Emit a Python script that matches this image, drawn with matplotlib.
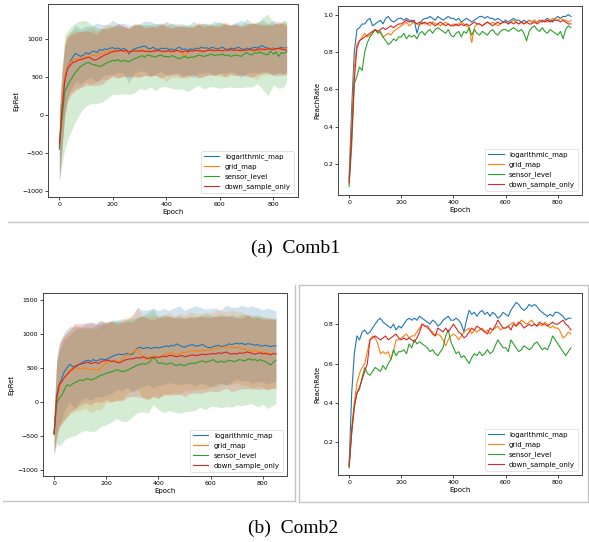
import numpy as np
from matplotlib import pyplot as plt
from matplotlib.lines import Line2D

W, H = 589, 542

epochs = np.arange(0, 851, 10)
band_epochs = np.array([0, 10, 20, 30, 40] + list(range(60, 841, 20)) + [850])
names = ["logarithmic_map", "grid_map", "sensor_level", "down_sample_only"]
colors = ["tab:blue", "tab:orange", "tab:green", "tab:red"]

# ---- Comb1, EpRet ----
c1_ret_log = [-450, 50, 450, 620, 700, 760, 810, 790, 770, 790,
              820, 800, 830, 840, 820, 860, 850, 870, 860, 880,
              885, 870, 880, 860, 875, 860, 800, 850, 870, 880,
              890, 900, 905, 880, 870, 890, 870, 860, 880, 870,
              880, 860, 870, 850, 880, 890, 860, 870, 850, 870,
              860, 880, 870, 890, 880, 885, 870, 890, 880, 870,
              880, 890, 870, 860, 880, 870, 880, 890, 870, 860,
              880, 870, 880, 890, 880, 900, 910, 890, 880, 870,
              880, 870, 880, 890, 880, 890]
c1_ret_grid = [-400, 100, 500, 640, 690, 720, 730, 740, 735, 750,
               770, 760, 780, 790, 770, 800, 810, 820, 830, 840,
               850, 840, 830, 845, 835, 830, 820, 840, 850, 845,
               850, 860, 840, 830, 850, 840, 830, 850, 840, 830,
               830, 840, 820, 830, 840, 830, 820, 760, 820, 840,
               850, 840, 860, 850, 840, 850, 860, 840, 850, 860,
               850, 840, 860, 850, 860, 840, 850, 860, 850, 840,
               850, 860, 850, 860, 850, 840, 860, 870, 860, 870,
               870, 860, 880, 870, 880, 880]
c1_ret_sensor = [-420, -50, 300, 380, 450, 500, 560, 600, 640, 660,
                 680, 690, 670, 660, 650, 640, 650, 670, 690, 700,
                 720, 710, 730, 700, 720, 710, 700, 720, 740, 750,
                 770, 780, 760, 790, 780, 770, 760, 780, 790, 770,
                 770, 760, 780, 770, 750, 740, 760, 770, 750, 760,
                 760, 770, 790, 780, 770, 780, 790, 800, 780, 790,
                 790, 800, 780, 790, 770, 780, 790, 780, 770, 800,
                 820, 800, 790, 820, 810, 830, 810, 800, 790, 840,
                 800, 830, 770, 820, 810, 830]
c1_ret_down = [-380, 80, 450, 600, 650, 690, 700, 720, 730, 740,
               750, 760, 740, 720, 730, 750, 770, 790, 800, 820,
               830, 840, 845, 850, 840, 850, 830, 835, 845, 840,
               840, 845, 835, 840, 830, 840, 845, 850, 840, 835,
               840, 845, 835, 840, 850, 840, 830, 840, 835, 845,
               840, 850, 845, 840, 835, 845, 850, 855, 845, 850,
               850, 845, 855, 850, 860, 850, 855, 850, 845, 855,
               850, 860, 855, 850, 860, 870, 865, 860, 870, 865,
               860, 870, 875, 865, 860, 850]

c1_std_log = [450, 500, 450, 400, 380,
              370, 360, 350, 340, 390, 340, 330, 360, 320, 330,
              380, 320, 310, 330, 360, 330, 310, 350, 330, 320,
              340, 320, 370, 320, 330, 310, 360, 330, 320, 310,
              330, 380, 330, 320, 330, 340, 320, 370, 320, 330,
              320]
c1_std_grid = [450, 500, 450, 420, 400,
               380, 360, 340, 380, 330, 340, 370, 320, 340, 330,
               320, 360, 340, 320, 330, 310, 340, 390, 320, 350,
               330, 340, 320, 360, 350, 320, 330, 340, 370, 330,
               340, 320, 330, 350, 380, 330, 340, 320, 330, 360,
               330]
c1_std_sensor = [450, 600, 750, 720, 700,
                 650, 600, 560, 520, 500, 480, 470, 450, 460, 440,
                 430, 450, 420, 430, 410, 440, 420, 400, 430, 410,
                 420, 440, 410, 400, 430, 420, 410, 440, 420, 400,
                 430, 410, 450, 420, 400, 470, 540, 410, 420, 440,
                 400]
c1_std_down = [450, 500, 470, 430, 400,
               380, 370, 360, 350, 340, 370, 330, 330, 360, 330,
               320, 330, 350, 310, 330, 320, 360, 320, 310, 320,
               340, 320, 310, 360, 320, 330, 320, 310, 350, 320,
               330, 320, 340, 360, 330, 320, 310, 330, 360, 330,
               320]

# ---- Comb1, ReachRate ----
c1_rr_log = [0.12, 0.50, 0.80, 0.92, 0.93, 0.95, 0.95, 0.97, 0.98, 0.94,
             0.95, 0.96, 0.97, 0.95, 0.98, 0.99, 0.97, 0.96, 0.97, 0.98,
             0.98, 0.97, 0.98, 0.97, 0.96, 0.97, 0.90, 0.95, 0.97, 0.98,
             0.98, 0.99, 0.98, 0.97, 0.99, 0.98, 0.97, 0.98, 0.99, 0.98,
             0.98, 0.97, 0.98, 0.96, 0.97, 0.98, 0.97, 0.96, 0.97, 0.98,
             0.99, 0.99, 0.98, 0.99, 0.98, 0.98, 0.97, 0.98, 0.97, 0.96,
             0.97, 0.96, 0.97, 0.98, 0.97, 0.97, 0.96, 0.97, 0.96, 0.97,
             0.96, 0.97, 0.96, 0.97, 0.96, 0.97, 0.98, 0.97, 0.96, 0.98,
             0.99, 0.98, 0.99, 0.99, 1.00, 0.99]
c1_rr_grid = [0.10, 0.40, 0.72, 0.84, 0.86, 0.88, 0.90, 0.88, 0.89, 0.90,
              0.92, 0.91, 0.90, 0.88, 0.89, 0.90, 0.89, 0.91, 0.92, 0.93,
              0.94, 0.95, 0.96, 0.94, 0.95, 0.96, 0.95, 0.94, 0.96, 0.95,
              0.95, 0.94, 0.96, 0.95, 0.95, 0.94, 0.95, 0.96, 0.95, 0.94,
              0.95, 0.94, 0.95, 0.96, 0.95, 0.94, 0.93, 0.85, 0.93, 0.95,
              0.95, 0.94, 0.95, 0.96, 0.95, 0.96, 0.95, 0.94, 0.95, 0.96,
              0.96, 0.95, 0.96, 0.97, 0.96, 0.95, 0.96, 0.95, 0.96, 0.97,
              0.96, 0.97, 0.96, 0.97, 0.96, 0.97, 0.96, 0.97, 0.98, 0.97,
              0.97, 0.98, 0.97, 0.97, 0.96, 0.97]
c1_rr_sensor = [0.08, 0.30, 0.63, 0.67, 0.72, 0.70, 0.80, 0.85, 0.88, 0.90,
                0.92, 0.90, 0.91, 0.88, 0.86, 0.84, 0.85, 0.87, 0.86, 0.88,
                0.88, 0.90, 0.87, 0.89, 0.88, 0.89, 0.87, 0.90, 0.91, 0.89,
                0.91, 0.92, 0.90, 0.92, 0.93, 0.92, 0.91, 0.90, 0.92, 0.89,
                0.88, 0.90, 0.91, 0.88, 0.91, 0.90, 0.93, 0.89, 0.92, 0.90,
                0.89, 0.91, 0.90, 0.89, 0.91, 0.92, 0.90, 0.89, 0.91, 0.92,
                0.92, 0.91, 0.92, 0.93, 0.92, 0.91, 0.92, 0.90, 0.86, 0.91,
                0.93, 0.94, 0.92, 0.91, 0.93, 0.91, 0.90, 0.92, 0.91, 0.90,
                0.89, 0.91, 0.87, 0.92, 0.94, 0.93]
c1_rr_down = [0.10, 0.35, 0.65, 0.82, 0.86, 0.87, 0.88, 0.89, 0.90, 0.91,
              0.92, 0.91, 0.92, 0.93, 0.92, 0.93, 0.94, 0.93, 0.94, 0.95,
              0.95, 0.96, 0.97, 0.96, 0.97, 0.96, 0.95, 0.96, 0.95, 0.96,
              0.95, 0.96, 0.95, 0.94, 0.95, 0.96, 0.95, 0.94, 0.95, 0.94,
              0.94, 0.95, 0.94, 0.95, 0.94, 0.95, 0.94, 0.95, 0.96, 0.95,
              0.95, 0.94, 0.95, 0.96, 0.95, 0.94, 0.95, 0.96, 0.95, 0.96,
              0.96, 0.95, 0.96, 0.95, 0.96, 0.95, 0.96, 0.95, 0.96, 0.95,
              0.95, 0.96, 0.95, 0.96, 0.97, 0.96, 0.97, 0.96, 0.97, 0.97,
              0.97, 0.96, 0.97, 0.96, 0.95, 0.95]

# ---- Comb2, EpRet ----
c2_ret_log = [-480, 100, 250, 350, 450, 500, 550, 520, 500, 530,
              560, 580, 600, 610, 590, 620, 600, 610, 630, 620,
              620, 640, 660, 680, 690, 700, 690, 700, 710, 690,
              700, 740, 790, 800, 780, 790, 800, 780, 790, 800,
              790, 800, 810, 820, 810, 830, 820, 850, 830, 810,
              800, 820, 830, 840, 820, 820, 830, 840, 810, 800,
              790, 810, 820, 830, 810, 820, 830, 850, 840, 850,
              860, 850, 860, 840, 850, 850, 840, 830, 840, 820,
              820, 830, 820, 810, 820, 820]
c2_ret_grid = [-450, 0, 200, 300, 350, 400, 430, 460, 500, 490,
               480, 490, 500, 480, 470, 480, 470, 460, 500, 540,
               570, 580, 590, 600, 590, 600, 620, 650, 680, 700,
               720, 740, 780, 700, 650, 620, 640, 660, 680, 650,
               650, 660, 690, 700, 710, 720, 700, 690, 700, 720,
               720, 730, 740, 750, 740, 750, 740, 760, 750, 760,
               760, 770, 780, 790, 800, 800, 790, 810, 800, 790,
               800, 790, 780, 770, 760, 760, 740, 750, 740, 730,
               730, 720, 710, 700, 710, 700]
c2_ret_sensor = [-480, -20, 50, 100, 180, 250, 230, 260, 280, 300,
                 320, 310, 330, 340, 320, 330, 350, 370, 390, 400,
                 420, 430, 440, 450, 470, 460, 440, 450, 460, 480,
                 500, 520, 540, 550, 560, 550, 570, 600, 660, 620,
                 560, 570, 560, 550, 560, 570, 540, 530, 550, 540,
                 530, 550, 560, 570, 560, 580, 590, 600, 580, 590,
                 600, 620, 590, 580, 600, 580, 590, 610, 600, 590,
                 600, 620, 610, 600, 620, 630, 610, 620, 600, 620,
                 600, 590, 560, 540, 580, 610]
c2_ret_down = [-470, 50, 250, 300, 360, 400, 450, 480, 520, 540,
               550, 560, 570, 580, 560, 570, 580, 560, 590, 600,
               600, 610, 590, 600, 580, 570, 590, 610, 620, 630,
               630, 640, 650, 640, 660, 650, 630, 650, 640, 660,
               650, 660, 670, 660, 680, 680, 670, 660, 670, 680,
               660, 670, 680, 690, 680, 680, 690, 700, 690, 700,
               700, 710, 700, 720, 710, 720, 730, 710, 700, 710,
               700, 720, 710, 720, 730, 720, 710, 700, 710, 720,
               700, 710, 700, 690, 710, 700]

c2_std_log = [300, 550, 600, 600, 580,
              560, 600, 550, 540, 570, 530, 560, 520, 540, 510,
              530, 500, 560, 600, 560, 550, 590, 550, 560, 530,
              560, 580, 540, 550, 590, 560, 550, 580, 560, 540,
              590, 550, 530, 560, 540, 570, 540, 530, 560, 530,
              520]
c2_std_grid = [300, 550, 600, 620, 620,
               620, 640, 610, 600, 630, 590, 620, 580, 600, 570,
               590, 560, 560, 600, 600, 620, 590, 610, 580, 600,
               570, 590, 560, 580, 560, 550, 570, 540, 560, 540,
               530, 550, 520, 540, 520, 540, 510, 520, 540, 510,
               510]
c2_std_sensor = [300, 600, 700, 720, 740,
                 750, 780, 770, 750, 760, 780, 750, 760, 740, 720,
                 730, 750, 720, 700, 710, 740, 700, 680, 720, 690,
                 690, 720, 680, 700, 690, 670, 700, 670, 660, 690,
                 660, 680, 650, 670, 660, 640, 680, 640, 660, 630,
                 640]
c2_std_down = [300, 550, 600, 620, 620,
               610, 630, 600, 590, 610, 580, 600, 570, 590, 560,
               580, 560, 550, 580, 600, 590, 570, 590, 570, 580,
               570, 560, 580, 560, 550, 570, 550, 540, 560, 540,
               530, 550, 530, 520, 540, 520, 530, 510, 520, 510,
               510]

# ---- Comb2, ReachRate ----
c2_rr_log = [0.08, 0.45, 0.65, 0.74, 0.72, 0.76, 0.77, 0.75, 0.76, 0.78,
             0.80, 0.82, 0.83, 0.81, 0.80, 0.79, 0.78, 0.80, 0.77, 0.79,
             0.78, 0.80, 0.82, 0.83, 0.82, 0.83, 0.82, 0.84, 0.83, 0.82,
             0.81, 0.80, 0.82, 0.81, 0.79, 0.80, 0.82, 0.83, 0.84, 0.82,
             0.82, 0.83, 0.82, 0.80, 0.76, 0.82, 0.87, 0.85, 0.86, 0.84,
             0.86, 0.87, 0.85, 0.86, 0.84, 0.86, 0.85, 0.83, 0.84, 0.86,
             0.85, 0.84, 0.87, 0.89, 0.91, 0.90, 0.88, 0.87, 0.88, 0.90,
             0.89, 0.90, 0.89, 0.87, 0.86, 0.85, 0.84, 0.85, 0.84, 0.86,
             0.86, 0.85, 0.84, 0.82, 0.83, 0.83]
c2_rr_grid = [0.08, 0.28, 0.40, 0.50, 0.55, 0.58, 0.60, 0.66, 0.72, 0.74,
              0.73, 0.70, 0.65, 0.66, 0.65, 0.66, 0.62, 0.66, 0.72, 0.72,
              0.73, 0.74, 0.75, 0.73, 0.74, 0.74, 0.76, 0.78, 0.80, 0.79,
              0.78, 0.77, 0.76, 0.74, 0.75, 0.74, 0.72, 0.69, 0.72, 0.74,
              0.75, 0.74, 0.72, 0.74, 0.76, 0.77, 0.78, 0.75, 0.77, 0.76,
              0.77, 0.78, 0.76, 0.77, 0.75, 0.77, 0.78, 0.79, 0.77, 0.78,
              0.78, 0.79, 0.80, 0.81, 0.79, 0.80, 0.82, 0.81, 0.80, 0.81,
              0.82, 0.80, 0.79, 0.80, 0.79, 0.81, 0.80, 0.78, 0.79, 0.78,
              0.78, 0.76, 0.73, 0.74, 0.76, 0.75]
c2_rr_sensor = [0.07, 0.25, 0.38, 0.45, 0.47, 0.53, 0.58, 0.55, 0.54, 0.56,
                0.58, 0.57, 0.56, 0.59, 0.57, 0.60, 0.62, 0.67, 0.64, 0.66,
                0.66, 0.67, 0.65, 0.70, 0.68, 0.72, 0.70, 0.71, 0.70, 0.69,
                0.68, 0.66, 0.67, 0.65, 0.64, 0.66, 0.68, 0.74, 0.77, 0.71,
                0.68, 0.65, 0.66, 0.63, 0.64, 0.62, 0.60, 0.63, 0.65, 0.64,
                0.66, 0.64, 0.65, 0.67, 0.65, 0.66, 0.69, 0.72, 0.70, 0.68,
                0.68, 0.66, 0.72, 0.70, 0.68, 0.66, 0.67, 0.69, 0.68, 0.67,
                0.68, 0.70, 0.71, 0.69, 0.67, 0.68, 0.67, 0.70, 0.74, 0.72,
                0.70, 0.68, 0.66, 0.64, 0.66, 0.68]
c2_rr_down = [0.08, 0.25, 0.38, 0.45, 0.48, 0.52, 0.56, 0.60, 0.72, 0.73,
              0.74, 0.73, 0.72, 0.73, 0.74, 0.72, 0.73, 0.74, 0.75, 0.73,
              0.72, 0.73, 0.72, 0.73, 0.72, 0.71, 0.73, 0.76, 0.80, 0.79,
              0.79, 0.77, 0.75, 0.74, 0.78, 0.77, 0.76, 0.78, 0.76, 0.78,
              0.80, 0.78, 0.76, 0.75, 0.73, 0.74, 0.76, 0.78, 0.77, 0.79,
              0.78, 0.77, 0.76, 0.75, 0.78, 0.77, 0.79, 0.82, 0.80, 0.78,
              0.78, 0.79, 0.77, 0.80, 0.79, 0.81, 0.80, 0.78, 0.79, 0.80,
              0.79, 0.80, 0.79, 0.81, 0.80, 0.80, 0.79, 0.80, 0.81, 0.80,
              0.80, 0.81, 0.82, 0.80, 0.79, 0.77]


def px_rect(left, top, right, bottom):
    return [left / W, 1 - bottom / H, (right - left) / W, (bottom - top) / H]


def panel(ax, series, ylabel, ylim, stds=None):
    band_mask = np.isin(epochs, band_epochs)
    for i, (y, name, c) in enumerate(zip(series, names, colors)):
        y = np.array(y, dtype=float)
        if stds is not None:
            m = y[band_mask]
            s = np.array(stds[i], dtype=float)
            ax.fill_between(band_epochs, m - s, m + s, color=c, alpha=0.2, lw=0)
        ax.plot(epochs, y, color=c, lw=0.8, label=name)
    ax.set_xlim(-42.5, 892.5)
    ax.set_ylim(*ylim)
    ax.set_xlabel("Epoch", fontsize=5, labelpad=1.5)
    ax.set_ylabel(ylabel, fontsize=5, labelpad=2)
    ax.tick_params(labelsize=4.5, length=2, width=0.5, pad=1.5)
    for sp in ax.spines.values():
        sp.set_linewidth(0.7)
        sp.set_color("#444444")
    leg = ax.legend(loc="lower right", fontsize=5, handlelength=2.2,
                    borderaxespad=0.6, labelspacing=0.45)
    leg.get_frame().set_linewidth(0.5)


fig = plt.figure(figsize=(W / 100, H / 100), dpi=100)

ax1 = fig.add_axes(px_rect(48, 4, 298, 197))
panel(ax1, [c1_ret_log, c1_ret_grid, c1_ret_sensor, c1_ret_down], "EpRet",
      (-1080, 1460), [c1_std_log, c1_std_grid, c1_std_sensor, c1_std_down])
ax2 = fig.add_axes(px_rect(338, 6, 582, 195))
panel(ax2, [c1_rr_log, c1_rr_grid, c1_rr_sensor, c1_rr_down], "ReachRate",
      (0.034, 1.046))
ax3 = fig.add_axes(px_rect(43, 293, 287, 476))
panel(ax3, [c2_ret_log, c2_ret_grid, c2_ret_sensor, c2_ret_down], "EpRet",
      (-1093, 1598), [c2_std_log, c2_std_grid, c2_std_sensor, c2_std_down])
ax4 = fig.add_axes(px_rect(338, 293, 582, 475))
panel(ax4, [c2_rr_log, c2_rr_grid, c2_rr_sensor, c2_rr_down], "ReachRate",
      (0.034, 0.958))


def gline(xs, ys):
    fig.add_artist(Line2D([x / W for x in xs], [1 - y / H for y in ys],
                          color="#c4c4c4", lw=1.0))


# panel separators / frames from the page layout
gline([8, 589], [222, 222])
gline([295, 295], [285, 501])
gline([3, 295], [501, 501])
gline([299, 588, 588, 299, 299], [285, 285, 502, 502, 285])

fig.text(296 / W, 1 - 248 / H, "(a)  Comb1", ha="center", va="center",
         fontsize=14, family="Liberation Serif")
fig.text(293 / W, 1 - 528 / H, "(b)  Comb2", ha="center", va="center",
         fontsize=14, family="Liberation Serif")

fig.savefig("out.png", dpi=100)
